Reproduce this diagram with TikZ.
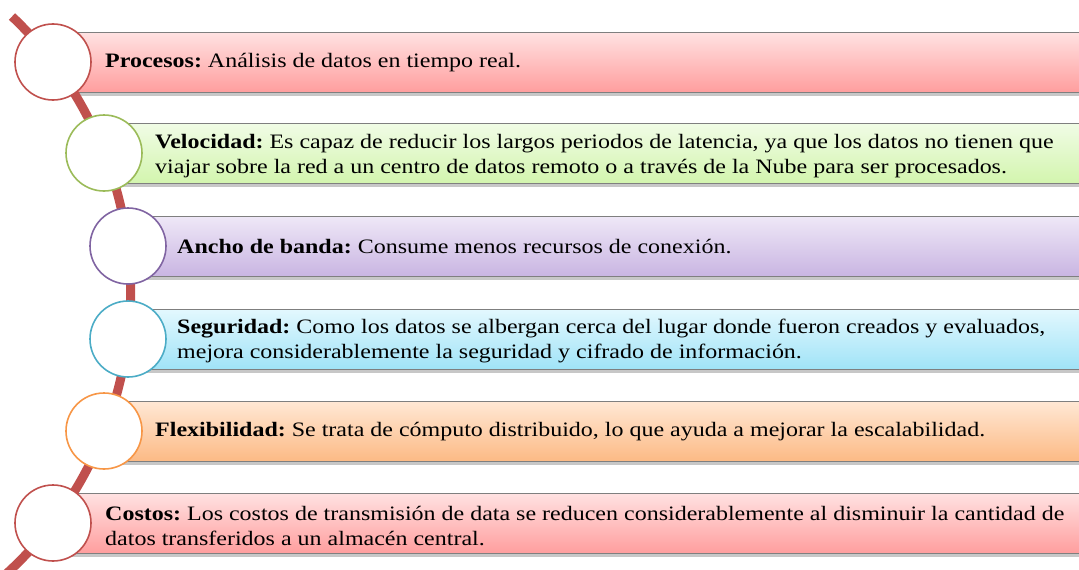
\documentclass[tikz,border=0pt]{standalone}
\usepackage{fontspec}
\setmainfont{Liberation Serif}[FakeStretch=1.17]
\usetikzlibrary{shadows}
\definecolor{arcred}{HTML}{C0504D}
\definecolor{cgreen}{HTML}{9BBB59}
\definecolor{cpurple}{HTML}{8064A2}
\definecolor{cblue}{HTML}{4BACC6}
\definecolor{corange}{HTML}{F79646}
\definecolor{redtop}{HTML}{FFE2E2}
\definecolor{redbot}{HTML}{FF9E9E}
\definecolor{greentop}{HTML}{F1FCE6}
\definecolor{greenbot}{HTML}{D3F5AE}
\definecolor{purptop}{HTML}{EFE8F7}
\definecolor{purpbot}{HTML}{C9B5E2}
\definecolor{bluetop}{HTML}{E3F8FE}
\definecolor{bluebot}{HTML}{A0E3F7}
\definecolor{orantop}{HTML}{FFE8D5}
\definecolor{oranbot}{HTML}{FCBA85}
\definecolor{bargray}{HTML}{7F7F7F}
\tikzset{
  bar/.style={rectangle, draw=bargray, line width=0.8pt, minimum height=60pt, anchor=west,
    inner sep=0pt, drop shadow={shadow xshift=1pt, shadow yshift=-4pt, fill=black, opacity=0.22}},
  dot/.style={circle, draw, fill=white, line width=1.6pt, minimum size=76pt, inner sep=0pt},
  txt/.style={anchor=west, align=left, inner sep=0pt, font=\fontsize{20.5}{25}\selectfont\frenchspacing}
}
\begin{document}
\begin{tikzpicture}[x=1pt,y=-1pt]
\useasboundingbox (0,0) rectangle (1079,570);
% bars
\node[bar, minimum width=1040pt, top color=redtop, bottom color=redbot] (b1) at (53,62) {};
\node[bar, minimum width=990pt, top color=greentop, bottom color=greenbot] (b2) at (104,153) {};
\node[bar, minimum width=965pt, top color=purptop, bottom color=purpbot] (b3) at (128,246) {};
\node[bar, minimum width=965pt, top color=bluetop, bottom color=bluebot] (b4) at (128,339) {};
\node[bar, minimum width=990pt, top color=orantop, bottom color=oranbot] (b5) at (104,431) {};
\node[bar, minimum width=1040pt, top color=redtop, bottom color=redbot] (b6) at (53,523) {};
% arc
\coordinate (arcc) at (-249.9,292.5);
\draw[arcred, line width=9pt] (arcc) ++(-46.5:380.5) arc[start angle=-46.5, end angle=49, radius=380.5];
% circles
\node[dot, draw=arcred] (c1) at (53,62) {};
\node[dot, draw=cgreen] (c2) at (104,153) {};
\node[dot, draw=cpurple] (c3) at (128,246) {};
\node[dot, draw=cblue] (c4) at (128,339) {};
\node[dot, draw=corange] (c5) at (104,431) {};
\node[dot, draw=arcred] (c6) at (53,523) {};
% texts
\node[txt] (t1) at (105,63) {\textbf{Procesos:} Análisis de datos en tiempo real.};
\node[txt] (t2) at (155,156) {\textbf{Velocidad:} Es capaz de reducir los largos periodos de latencia, ya que los datos no tienen que\\viajar sobre la red a un centro de datos remoto o a través de la Nube para ser procesados.};
\node[txt] (t3) at (177,247) {\textbf{Ancho de banda:} Consume menos recursos de conexión.};
\node[txt] (t4) at (177,341) {\textbf{Seguridad:} Como los datos se albergan cerca del lugar donde fueron creados y evaluados,\\mejora considerablemente la seguridad y cifrado de información.};
\node[txt] (t5) at (155,432) {\textbf{Flexibilidad:} Se trata de cómputo distribuido, lo que ayuda a mejorar la escalabilidad.};
\node[txt] (t6) at (105,526) {\textbf{Costos:} Los costos de transmisión de data se reducen considerablemente al disminuir la cantidad de\\datos transferidos a un almacén central.};
\end{tikzpicture}
\end{document}
